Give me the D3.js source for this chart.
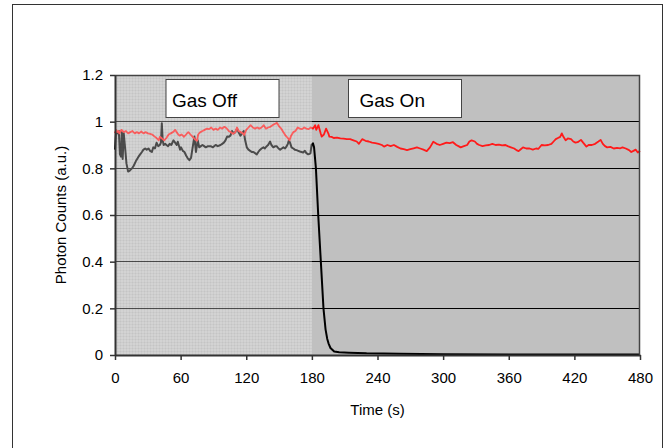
<!DOCTYPE html>
<html>
<head>
<meta charset="utf-8">
<script src="https://cdn.jsdelivr.net/npm/d3@7"></script>
<style>
  body { margin: 0; background: #fff; }
  svg { font-family: "Liberation Sans", Arial, sans-serif; }
</style>
</head>
<body>
<div class="chart"></div>
<script>
// time (s), photon counts (a.u.)
const redSeries = [
  [0,.95],[1,.965],[2,.955],[3,.96],[4,.95],[6,.965],[8,.955],[10,.96],[12,.95],[14,.955],
  [16,.96],[18,.95],[20,.955],[22,.95],[24,.958],[26,.95],[28,.955],[30,.95],[32,.948],[34,.945],
  [36,.937],[38,.93],[40,.92],[41,.935],[43,.928],[45,.92],[47,.93],[49,.945],[51,.95],[53,.955],
  [55,.965],[57,.95],[59,.94],[61,.945],[63,.935],[65,.945],[67,.955],[69,.945],[71,.935],[73,.925],
  [75,.918],[76,.945],[78,.955],[80,.96],[82,.965],[84,.97],[86,.968],[88,.975],[90,.965],[92,.97],
  [94,.965],[96,.975],[98,.97],[100,.978],[102,.972],[104,.96],[106,.955],[108,.948],[110,.955],[111.5,.975],
  [113,.96],[115,.955],[117,.95],[118,.943],[120,.965],[122,.975],[124,.985],[126,.975],[128,.97],[130,.975],
  [132,.97],[134,.975],[136,.985],[138,.97],[140,.975],[142,.978],[144,.985],[146,.99],[148,.995],[150,.98],
  [152,.97],[154,.955],[156,.94],[158,.93],[159.5,.92],[161,.94],[163,.955],[165,.96],[167,.975],[169,.97],
  [171,.968],[173,.975],[175,.97],[177,.968],[179,.975],[181,.97],[183,.985],[184,.965],[186,.985],[188,.95],
  [189,.936],[191,.945],[193,.97],[195,.95],[196,.936],[198,.935],[200,.93],[203,.932],[206,.928],[209,.927],
  [212,.925],[215,.925],[218,.92],[221,.915],[223,.905],[226,.925],[229,.918],[232,.915],[235,.91],[238,.908],
  [241,.905],[244,.9],[246,.893],[249,.9],[252,.895],[255,.9],[258,.892],[261,.885],[264,.882],[267,.878],
  [270,.882],[273,.886],[276,.89],[279,.885],[282,.88],[285,.874],[288,.89],[291,.914],[294,.905],[297,.9],
  [300,.905],[303,.91],[306,.908],[309,.912],[312,.9],[314,.895],[316,.89],[319,.895],[322,.9],[324,.915],
  [326,.92],[329,.915],[331,.905],[333,.9],[336,.895],[339,.898],[342,.9],[345,.905],[348,.9],[351,.902],
  [354,.898],[357,.9],[359,.895],[362,.89],[365,.885],[367,.878],[369,.874],[371,.882],[373,.89],[376,.885],
  [379,.885],[382,.88],[385,.885],[387,.883],[390,.9],[393,.898],[396,.9],[399,.905],[401,.915],[403,.925],
  [405,.93],[407,.935],[408.5,.95],[410,.935],[412,.92],[414,.928],[417,.925],[419,.915],[421,.91],[423,.912],
  [426,.922],[428,.91],[431,.893],[433,.9],[436,.9],[439,.905],[442,.915],[444,.922],[446,.905],[448,.895],
  [450,.89],[453,.892],[456,.885],[459,.888],[462,.886],[464,.89],[467,.885],[470,.878],[472,.87],[474,.875],
  [476,.88],[478,.868],[480,.875]
];

const blackSeries = [
  [0,.88],[1,.96],[2.5,.95],[3.5,.96],[4.5,.86],[5.5,.85],[6.2,.96],[7,.84],[8,.95],[9,.9],
  [10.5,.82],[12,.786],[13.5,.79],[15.5,.8],[17,.81],[19,.83],[21.5,.85],[23,.86],[24.6,.87],[26,.88],
  [27.6,.885],[29,.88],[30.7,.885],[32,.875],[33.7,.87],[35,.89],[36.5,.885],[38,.91],[39.5,.895],[41,.9],
  [42,.91],[42.8,.993],[43.6,.92],[44.5,.9],[46,.905],[47,.9],[48.5,.895],[50,.905],[51.5,.9],[53.4,.92],
  [55,.91],[56.4,.9],[57.4,.914],[59.5,.88],[60.4,.89],[62,.875],[63.5,.87],[65,.855],[66.5,.843],[68,.835],
  [69.5,.845],[71,.89],[72.6,.936],[74,.87],[75.6,.92],[77,.89],[78.5,.895],[80,.9],[81.5,.895],[83,.89],
  [85,.895],[87.5,.895],[89.5,.89],[92,.9],[94,.895],[96.5,.9],[98,.905],[99.5,.91],[101,.92],[102.5,.936],
  [104,.935],[105.5,.94],[107,.96],[108.5,.95],[110,.955],[111.6,.97],[113,.955],[114.7,.94],[116.2,.95],[117.7,.96],
  [119,.92],[120.5,.89],[122,.88],[123.6,.875],[125,.87],[126.6,.87],[128,.865],[129.6,.86],[131,.87],[132.7,.88],
  [134,.885],[135.7,.89],[137,.885],[138.7,.895],[140,.9],[141.8,.915],[143,.9],[144.8,.89],[146.5,.895],[147.8,.895],
  [149.5,.885],[151,.88],[152.5,.885],[154,.89],[155.5,.885],[157,.895],[158,.905],[159,.92],[160,.91],[161.4,.89],
  [163,.885],[164.4,.88],[166,.878],[167.5,.875],[169,.872],[170.5,.87],[172,.868],[173.6,.875],[175,.865],[176.6,.86],
  [178,.862],[178.7,.865],[179.7,.9],[181,.907],[182,.89],[183.7,.8],[185.8,.6],[188.2,.4],[190.6,.2],[192.5,.11],
  [194,.07],[195.2,.05],[197,.03],[200.4,.015],[205,.012],[214,.01],[230,.007],[260,.005],[300,.003],[360,.002],
  [480,.002]
];

const xTicks = [0, 60, 120, 180, 240, 300, 360, 420, 480];
const yTicks = [0, 0.2, 0.4, 0.6, 0.8, 1, 1.2];
const phases = [{label: "Gas Off", start: 0, end: 180}, {label: "Gas On", start: 180, end: 480}];

const width = 670, height = 448;
const margin = {top: 75, right: 30, bottom: 93, left: 115};

const svg = d3.select(".chart").append("svg")
  .attr("width", width)
  .attr("height", height);

svg.append("rect").attr("width", width).attr("height", height).attr("fill", "#fff");

// outer frame
svg.append("rect")
  .attr("x", 12.5).attr("y", 4.5)
  .attr("width", 650).attr("height", 460)
  .attr("fill", "none")
  .attr("stroke", "#333")
  .attr("stroke-width", 1);

const x = d3.scaleLinear().domain([0, 480]).range([margin.left, width - margin.right]);
const y = d3.scaleLinear().domain([0, 1.2]).range([height - margin.bottom, margin.top]);

const defs = svg.append("defs");
const pat = defs.append("pattern")
  .attr("id", "dots")
  .attr("width", 3).attr("height", 3)
  .attr("patternUnits", "userSpaceOnUse");
pat.append("rect").attr("width", 3).attr("height", 3).attr("fill", "rgba(255,255,255,0.3)");
pat.append("rect").attr("width", 3).attr("height", 1).attr("fill", "rgba(0,0,0,0.035)");
pat.append("rect").attr("width", 1).attr("height", 3).attr("fill", "rgba(0,0,0,0.035)");

// plot background
svg.append("rect")
  .attr("x", x(0)).attr("y", y(1.2))
  .attr("width", x(480) - x(0)).attr("height", y(0) - y(1.2))
  .attr("fill", "#c0c0c0");

// gridlines
svg.append("g")
  .selectAll("line")
  .data(yTicks.filter(d => d > 0 && d < 1.2))
  .join("line")
  .attr("x1", x(0)).attr("x2", x(480))
  .attr("y1", d => y(d)).attr("y2", d => y(d))
  .attr("stroke", "#000")
  .attr("stroke-width", 1)
  .attr("shape-rendering", "crispEdges");

const line = d3.line().x(d => x(d[0])).y(d => y(d[1]));

svg.append("path")
  .datum(blackSeries)
  .attr("d", line)
  .attr("fill", "none")
  .attr("stroke", "#000")
  .attr("stroke-width", 2)
  .attr("stroke-linejoin", "round");

svg.append("path")
  .datum(redSeries)
  .attr("d", line)
  .attr("fill", "none")
  .attr("stroke", "#ff1a1a")
  .attr("stroke-width", 1.8)
  .attr("stroke-linejoin", "round");

// "gas off" overlay, lightens everything under it
svg.append("rect")
  .attr("x", x(phases[0].start)).attr("y", y(1.2))
  .attr("width", x(phases[0].end) - x(phases[0].start))
  .attr("height", y(0) - y(1.2))
  .attr("fill", "url(#dots)");

// frame of plot area (top + right)
svg.append("path")
  .attr("d", `M${x(0)},${y(1.2) + 0.5}H${x(480) - 0.5}V${y(0)}`)
  .attr("fill", "none")
  .attr("stroke", "#444")
  .attr("stroke-width", 1.5);

const xAxis = d3.axisBottom(x).tickValues(xTicks).tickSize(5).tickSizeOuter(0);
const yAxis = d3.axisLeft(y).tickValues(yTicks).tickSize(5).tickSizeOuter(0)
  .tickFormat(d3.format("~g"));

const gx = svg.append("g")
  .attr("transform", `translate(0,${y(0)})`)
  .call(xAxis);
gx.select(".domain").attr("stroke", "#333").attr("stroke-width", 2);
gx.selectAll(".tick line").attr("stroke", "#333").attr("stroke-width", 1.5);
gx.selectAll(".tick text")
  .attr("font-size", 15)
  .attr("font-family", "Liberation Sans, Arial, sans-serif")
  .attr("fill", "#000")
  .attr("dy", "1.3em");

const gy = svg.append("g")
  .attr("transform", `translate(${x(0)},0)`)
  .call(yAxis);
gy.select(".domain").attr("stroke", "#333").attr("stroke-width", 2);
gy.selectAll(".tick text")
  .attr("font-size", 15)
  .attr("font-family", "Liberation Sans, Arial, sans-serif")
  .attr("fill", "#000")
  .attr("x", -12);
gy.selectAll(".tick line").attr("stroke", "#333").attr("stroke-width", 1.5);

svg.append("text")
  .text("Time (s)")
  .attr("x", x(240)).attr("y", 415)
  .attr("text-anchor", "middle")
  .attr("font-size", 15);

svg.append("text")
  .text("Photon Counts (a.u.)")
  .attr("transform", `translate(66,${y(0.6)}) rotate(-90)`)
  .attr("text-anchor", "middle")
  .attr("font-size", 15);

// phase label boxes
const boxes = svg.append("g")
  .selectAll("g")
  .data(phases)
  .join("g")
  .attr("transform", (d, i) => `translate(${i === 0 ? 166 : 348.5},79.5)`);

boxes.append("rect")
  .attr("width", 113).attr("height", 38)
  .attr("fill", "#fff")
  .attr("stroke", "#444")
  .attr("stroke-width", 1);

boxes.append("text")
  .text(d => d.label)
  .attr("x", (d, i) => i === 0 ? 6 : 11)
  .attr("y", 27)
  .attr("font-size", 19);
</script>
</body>
</html>
